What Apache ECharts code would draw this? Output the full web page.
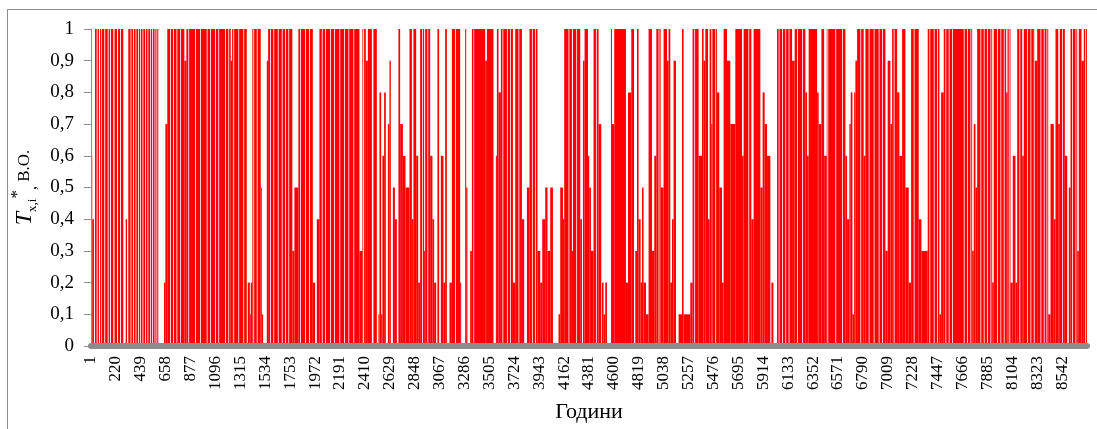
<!DOCTYPE html>
<html>
<head>
<meta charset="utf-8">
<script src="https://cdn.jsdelivr.net/npm/echarts/dist/echarts.min.js"></script>
<style>
  html, body { margin: 0; padding: 0; background: #fff; }
  .layer { position: absolute; left: 0; top: 0; width: 1097px; height: 429px; }
  #frame {
    position: absolute; left: 7px; top: 9px; width: 1100px; height: 430px;
    border: 1px solid #8c8c8c; pointer-events: none;
  }
</style>
</head>
<body>
<div id="bars" class="layer"></div>
<div id="axes" class="layer"></div>
<div id="frame"></div>
<script>
// hours in a year, label step on the x axis
const totalHours = 8760
const hourTickStep = 219

// [first hour of the run, value held until the next run]
const hourlyRuns = [
  [0,0.6],[11,0.4],[26,0],[35,1],
  [50,0],[58,1],[70,0],[79,1],[91,0],[97,1],[117,0],[125,1],[147,0],[155,1],[167,0],[175,1],[196,0],[207,1],[229,0],[238,1],[255,0],[263,1],
  [284,0],[305,0.4],[317,0],[328,1],
  [348,0],[355,1],[370,0],[377,1],[392,0],[399,1],[414,0],[421,1],[431,0],[438,1],[453,0],[460,1],[475,0],[482,1],[497,0],[504,1],[519,0],[526,1],[537,0],[544,1],[559,0],[566,1],[576,0],[583,1],
  [592,0],[642,0.2],[654,0.7],[671,1],
  [695,0],[702,1],[722,0],[729,1],[752,0],[759,1],[783,0],[790,1],
  [821,0.9],[839,1],
  [856,0],[863,1],[915,0],[922,1],[959,0],[966,1],[1018,0],[1025,1],[1047,0],[1054,1],[1091,0],[1098,1],[1120,0],[1127,1],[1179,0],[1186,1],[1208,0],[1215,1],[1229,0.9],[1241,1],[1252,0],[1259,1],[1296,0],[1303,1],[1340,0],[1347,1],
  [1370,0],[1379,0.2],[1397,0.1],[1405,0.2],[1419,1],[1428,0],[1435,1],[1458,0],[1465,1],
  [1493,0.5],[1502,0.1],[1514,0],[1546,0.9],[1558,1],
  [1575,0],[1582,1],[1604,0],[1611,1],[1643,0],[1650,1],[1678,0],[1685,1],[1707,0],[1714,1],[1736,0],[1743,1],
  [1771,0.3],[1789,0.5],[1824,1],[1839,0],[1846,1],[1883,0],[1890,1],[1918,0],[1925,1],
  [1951,0.2],[1971,0],[1986,0.4],[2009,1],
  [2030,0],[2037,1],[2059,0],[2066,1],[2103,0],[2110,1],[2138,0],[2145,1],[2185,0],[2192,1],[2226,0],[2233,1],[2264,0],[2271,1],[2308,0],[2315,1],
  [2361,0.3],[2387,1],[2394,0],[2402,1],[2417,0.9],[2435,1],[2470,0],[2484,1],
  [2514,0],[2528,0.1],[2537,0.8],[2552,0.1],[2563,0.6],[2578,0.8],[2593,0],[2611,0.7],[2625,0.9],[2637,0],[2655,0.5],[2673,0.4],[2690,0],[2704,1],[2719,0.7],[2743,0.6],[2766,0.5],[2801,1],[2822,0.4],[2836,1],[2860,0.6],[2878,0.2],[2895,1],[2913,0],[2920,1],[2930,0.3],[2939,1],[2959,0],[2966,1],[2983,0.6],[3003,0.4],[3018,0.2],[3036,0],[3047,1],[3062,0],[3077,0.6],[3100,0.2],[3115,1],[3130,0],[3153,0.2],[3174,1],[3203,0],[3210,1],[3247,0.2],[3256,0],[3291,1],[3300,0.5],[3311,0],[3335,0.3],[3350,1],[3364,0],[3370,1],[3467,0.9],[3482,1],
  [3540,0],[3561,0.6],[3570,1],[3584,0.8],[3605,1],[3619,0],[3626,1],[3658,0],[3665,1],[3687,0],[3694,1],[3711,0.2],[3731,1],[3760,0],[3767,1],[3790,0.4],[3810,0],[3834,0.5],[3857,1],[3878,0],[3885,1],[3907,0],[3914,1],[3927,0.3],[3951,0.2],[3969,0.4],[3995,0.5],[4015,0.3],[4039,0.5],[4063,0],[4112,0.1],[4127,0.5],[4151,0.4],[4162,1],[4200,0],[4207,1],[4230,0.3],[4239,1],[4268,0],[4275,1],
  [4303,0.4],[4318,0],[4327,0.9],[4341,1],[4371,0.6],[4382,0.5],[4397,0.3],[4420,1],[4441,0],[4448,1],[4464,0.7],[4488,0],[4494,0.2],[4508,0.1],[4523,0.2],[4538,0],[4573,1],[4582,0.7],[4602,1],
  [4705,0.2],[4723,0.8],[4752,1],[4776,0],[4787,0.3],[4802,1],[4816,0.4],[4834,0.2],[4846,0.5],[4860,0.2],[4881,0.1],[4904,1],[4934,0.3],[4954,0.6],[4972,1],[4992,0],[4999,1],[5010,0.5],[5036,1],[5066,0.9],[5080,1],[5095,0.2],[5110,0.4],[5124,0.9],[5145,0],[5168,0.1],[5198,1],[5212,0.1],[5271,0.2],[5291,1],[5306,0],[5313,1],[5344,0.6],[5374,1],[5388,0.9],[5403,1],[5427,0.4],[5441,1],[5456,0.7],[5465,1],[5491,0],[5498,1],[5506,0.8],[5526,0.5],[5550,0.2],[5564,1],[5594,0.9],[5623,0.7],[5667,1],[5726,0.6],[5740,1],[5782,0],[5789,1],[5808,0.4],[5828,1],
  [5887,0.5],[5907,0.8],[5925,0.7],[5946,0.6],[5975,0],[5984,0.2],[6002,0],[6034,1],[6048,0],[6055,1],[6078,0],[6085,1],[6107,0],[6114,1],[6136,0],[6143,1],[6166,0.9],[6189,1],[6210,0],[6217,1],[6254,0],[6261,1],[6283,0.8],[6298,0.6],[6312,1],[6386,0.8],[6400,0.7],[6424,1],[6448,0.6],[6471,1],[6477,0],[6484,1],[6547,0],[6554,1],[6606,0],[6613,1],[6635,0.6],[6650,0.4],[6670,0.7],[6682,0.8],[6697,0.1],[6712,0.8],[6723,0.9],[6738,1],[6767,0],[6774,1],[6796,0.6],[6811,1],[6840,0],[6847,1],[6884,0],[6891,1],[6928,0],[6935,1],[6958,0],[6965,1],[6987,0.3],[7007,0.9],[7031,0.7],[7046,1],[7060,0],[7067,1],[7090,0.8],[7110,0.6],[7134,1],[7163,0.5],[7192,0.2],[7213,1],[7236,0],[7243,1],[7280,0.4],[7304,0.3],[7359,1],[7374,0],[7381,1],[7412,0],[7419,1],[7442,0],[7449,1],[7462,0.1],[7477,0.8],[7500,1],[7515,0],[7522,1],[7544,0],[7551,1],[7574,0],[7581,1],[7676,0],[7683,1],[7706,0],[7713,1],[7735,0],[7742,1],[7750,0.3],[7764,0.7],[7779,0.5],[7794,1],[7823,0],[7830,1],[7852,0],[7859,1],[7882,0],[7889,1],[7911,0],[7918,1],[7926,0.2],[7940,1],[7970,0],[7977,1],[7999,0],[8006,1],[8028,0],[8035,1],[8049,0.8],[8061,1],[8072,0],[8079,1],[8087,0.2],[8107,0.6],[8131,0.2],[8146,1],[8166,0],[8173,1],[8190,0.6],[8204,1],[8234,0],[8241,1],[8263,0],[8270,1],[8292,0],[8299,1],[8301,0.9],[8322,1],[8351,0],[8358,1],[8380,0],[8387,1],[8404,0],[8411,1],[8419,0.1],[8439,0.7],[8468,0.4],[8483,1],[8507,0.7],[8521,1],[8542,0],[8549,1],[8565,0.6],[8586,0],[8600,0.5],[8615,1],[8630,0],[8637,1],[8659,0],[8666,1],[8674,0.3],[8688,1],[8712,0.9],[8732,1],[8745,0],[8752,1]
]

// [start, end, value] for every run that has a bar
const runData = []
hourlyRuns.forEach((r, i) => {
  const end = i + 1 < hourlyRuns.length ? hourlyRuns[i + 1][0] : totalHours
  if (r[1] > 0) runData.push([r[0], end, r[1]])
})

const serif = 'Liberation Serif'
const grid = { left: 91, right: 10, top: 29, bottom: 83 }

// bars on their own instance, same grid and scales as the axes layer
const barChart = echarts.init(document.getElementById('bars'))
barChart.setOption({
  animation: false,
  grid: grid,
  xAxis: { type: 'value', min: 0, max: totalHours, show: false },
  yAxis: { type: 'value', min: 0, max: 1, show: false },
  series: [
    {
      type: 'custom',
      clip: true,
      encode: { x: [0, 1], y: 2 },
      data: runData,
      renderItem: (params, api) => {
        const p0 = api.coord([api.value(0), 0])
        const p1 = api.coord([api.value(1), api.value(2)])
        return {
          type: 'rect',
          shape: { x: p0[0], y: p1[1], width: p1[0] - p0[0], height: p0[1] - p1[1] },
          style: { fill: '#ff0000' }
        }
      }
    }
  ]
})

// axes, ticks, labels and names
const axisChart = echarts.init(document.getElementById('axes'))
axisChart.setOption({
  animation: false,
  grid: grid,
  xAxis: {
    type: 'value',
    min: 0,
    max: totalHours,
    interval: hourTickStep,
    offset: 3,
    name: 'Години',
    nameLocation: 'middle',
    nameGap: 52,
    nameTextStyle: { fontFamily: serif, fontSize: 22, color: '#000' },
    axisLine: { show: true, lineStyle: { color: '#8c8c8c', width: 6 } },
    axisTick: { show: false },
    splitLine: { show: false },
    axisLabel: {
      rotate: 90,
      margin: 7,
      showMaxLabel: false,
      fontFamily: serif,
      fontSize: 17,
      color: '#000',
      formatter: v => String(v + 1)
    }
  },
  yAxis: {
    type: 'value',
    min: 0,
    max: 1,
    interval: 0.1,
    name: '{t|T}{s|x,i}{a|*}{c|,}{r| В.О.}',
    nameLocation: 'middle',
    nameRotate: 90,
    nameGap: 47,
    nameTextStyle: {
      color: '#000',
      rich: {
        t: { fontFamily: serif, fontStyle: 'italic', fontSize: 24, lineHeight: 30, verticalAlign: 'middle', color: '#000' },
        s: { fontFamily: serif, fontSize: 13, lineHeight: 13, verticalAlign: 'bottom', color: '#000' },
        a: { fontFamily: serif, fontSize: 17, lineHeight: 17, verticalAlign: 'top', color: '#000' },
        c: { fontFamily: serif, fontSize: 16, lineHeight: 14, verticalAlign: 'bottom', color: '#000' },
        r: { fontFamily: serif, fontSize: 17, lineHeight: 20, verticalAlign: 'middle', color: '#000' }
      }
    },
    axisLine: { show: true, lineStyle: { color: '#8c8c8c', width: 1 } },
    axisTick: { show: true, length: 7, lineStyle: { color: '#8c8c8c' } },
    splitLine: { show: false },
    axisLabel: {
      margin: 17,
      fontFamily: serif,
      fontSize: 19,
      color: '#000',
      formatter: v => String(+v.toFixed(1)).replace('.', ',')
    }
  },
  series: [{ type: 'line', data: [] }]
})
</script>
</body>
</html>
